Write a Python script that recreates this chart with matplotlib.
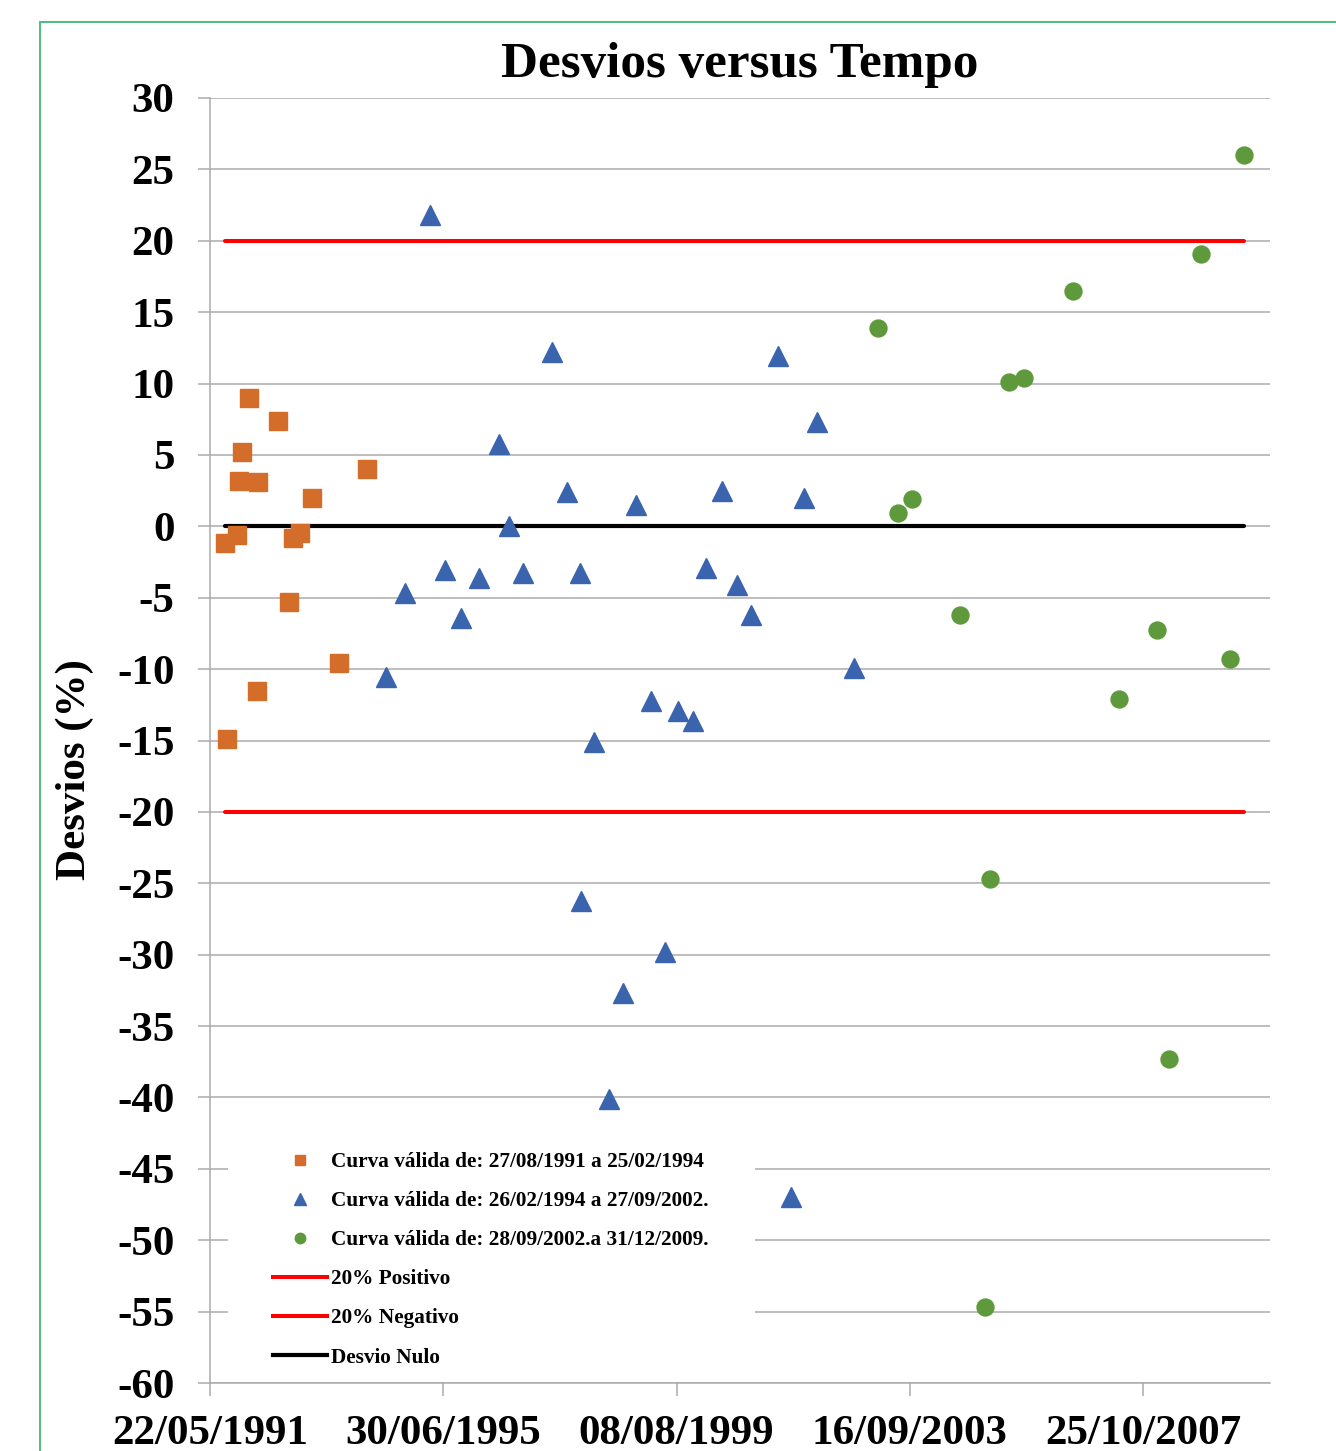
import matplotlib
matplotlib.use('Agg')
import matplotlib.pyplot as plt
import pandas as pd
from matplotlib.patches import Rectangle
from matplotlib.lines import Line2D

plt.rcParams['font.family'] = ['Liberation Serif', 'DejaVu Serif']
plt.rcParams['font.weight'] = 'bold'
plt.rcParams['axes.unicode_minus'] = False

# ---------------- data ----------------
orange_dates = ['1991-08-27', '1991-09-10', '1991-11-14', '1991-11-26', '1991-12-12',
                '1992-01-30', '1992-03-17', '1992-03-28', '1992-08-03', '1992-10-13',
                '1992-11-06', '1992-12-21', '1993-03-10', '1993-08-31', '1994-02-25']
orange_values = [-1.2, -14.9, -0.6, 3.2, 5.2, 9.0, -11.5, 3.1, 7.4, -5.3,
                 -0.8, -0.5, 2.0, -9.6, 4.0]

blue_dates = ['1994-06-27', '1994-10-27', '1995-04-04', '1995-07-11', '1995-10-20',
              '1996-02-13', '1996-06-23', '1996-08-28', '1996-11-24', '1997-05-29',
              '1997-09-01', '1997-11-24', '1997-11-30', '1998-02-24', '1998-06-02',
              '1998-08-31', '1998-11-23', '1999-02-23', '1999-05-24', '1999-08-18',
              '1999-11-22', '2000-02-16', '2000-05-25', '2000-08-29', '2000-11-27',
              '2001-05-24', '2001-08-11', '2001-11-07', '2002-01-26', '2002-09-24']
blue_values = [-10.55, -4.7, 21.8, -3.05, -6.4, -3.6, 5.8, 0.0, -3.25, 12.2,
               2.4, -3.25, -26.25, -15.1, -40.1, -32.7, 1.5, -12.2, -29.8, -12.9,
               -13.6, -2.9, 2.5, -4.1, -6.2, 11.9, -47.0, 1.96, 7.3, -9.9]

green_dates = ['2003-02-26', '2003-07-01', '2003-10-02', '2004-08-02', '2005-01-12',
               '2005-02-13', '2005-06-15', '2005-09-20', '2006-08-01', '2007-05-22',
               '2008-01-21', '2008-04-06', '2008-11-02', '2009-05-05', '2009-08-02']
green_values = [13.9, 0.93, 1.94, -6.24, -54.7, -24.7, 10.14, 10.4, 16.45, -12.06,
                -7.27, -37.3, 19.05, -9.28, 26.0]

limit_pos = 20
limit_neg = -20
limit_zero = 0

y_ticks = list(range(-60, 35, 5))
x_tick_labels = ['22/05/1991', '30/06/1995', '08/08/1999', '16/09/2003', '25/10/2007']
x_max_date = '2010-01-18'

title = 'Desvios versus Tempo'
y_label = 'Desvios (%)'
legend_labels = ['Curva válida de: 27/08/1991 a 25/02/1994',
                 'Curva válida de: 26/02/1994 a 27/09/2002.',
                 'Curva válida de: 28/09/2002.a 31/12/2009.',
                 '20% Positivo', '20% Negativo', 'Desvio Nulo']

# ---------------- styles ----------------
c_orange = '#D46D2A'
c_blue = '#3B64AE'
c_green = '#5E9A3B'
c_grid = '#ABABAB'
c_frame = '#4DBE7E'

W, H = 1336, 1451
fig = plt.figure(figsize=(W / 100, H / 100), dpi=100)
ax = fig.add_axes([210 / W, 1 - 1383 / H, 1060 / W, 1285 / H])

od = pd.to_datetime(orange_dates)
bd = pd.to_datetime(blue_dates)
gd = pd.to_datetime(green_dates)
line_x = [od[0], gd[-1]]

ax.plot(line_x, [limit_pos, limit_pos], color='#FF0000', lw=2.9, zorder=2,
        solid_capstyle='round')
ax.plot(line_x, [limit_neg, limit_neg], color='#FF0000', lw=2.9, zorder=2,
        solid_capstyle='round')
ax.plot(line_x, [limit_zero, limit_zero], color='black', lw=3.0, zorder=2,
        solid_capstyle='round')

ax.plot(od, orange_values, ls='none', marker='s', ms=13.5, color=c_orange,
        mec=c_orange, zorder=4)
ax.plot(bd, blue_values, ls='none', marker='^', ms=14, color=c_blue,
        mec=c_blue, zorder=4)
ax.plot(gd, green_values, ls='none', marker='o', ms=12.2, color=c_green,
        mec=c_green, zorder=4)

# axes
xt = pd.to_datetime(x_tick_labels, format='%d/%m/%Y')
ax.set_xlim(xt[0], pd.Timestamp(x_max_date))
ax.set_xticks(xt)
ax.set_xticklabels(x_tick_labels)
ax.set_ylim(-60, 30)
ax.set_yticks(y_ticks)
ax.set_yticklabels([str(v) for v in y_ticks])

ax.grid(axis='y', color=c_grid, lw=1.1)
ax.set_axisbelow(True)
for s in ['top', 'right']:
    ax.spines[s].set_visible(False)
for s in ['left', 'bottom']:
    ax.spines[s].set_color(c_grid)
    ax.spines[s].set_linewidth(1.1)
ax.tick_params(axis='y', length=8.6, width=1.1, color=c_grid, pad=17, labelsize=31)
ax.tick_params(axis='x', length=9, width=1.1, color=c_grid, pad=14, labelsize=31)
for lab in ax.get_xticklabels() + ax.get_yticklabels():
    lab.set_fontweight('bold')

# legend background box
ax.add_patch(Rectangle((228 / W, 1 - 1376 / H), (755 - 228) / W, (1376 - 1143) / H,
                       transform=fig.transFigure, facecolor='white',
                       edgecolor='none', zorder=1.5))

handles = [
    Line2D([], [], ls='none', marker='s', ms=7.5, color=c_orange),
    Line2D([], [], ls='none', marker='^', ms=8, color=c_blue),
    Line2D([], [], ls='none', marker='o', ms=7.5, color=c_green),
    Line2D([], [], color='#FF0000', lw=2.9),
    Line2D([], [], color='#FF0000', lw=2.9),
    Line2D([], [], color='black', lw=3.0),
]
leg = ax.legend(handles, legend_labels, loc='upper left',
                bbox_to_anchor=(273 / W, 1 - 1152 / H), bbox_transform=fig.transFigure,
                frameon=False, borderpad=0, borderaxespad=0, handlelength=2.55,
                handletextpad=0.2, labelspacing=0.9,
                prop={'family': 'Liberation Serif', 'size': 15.3, 'weight': 'bold'})
leg.set_zorder(5)

# title and y label
fig.text(740 / W, 1 - 77 / H, title, ha='center', va='baseline', fontsize=36.8,
         fontweight='bold')
fig.text(75 / W, 1 - 770 / H, y_label, ha='center', va='center', rotation=90,
         fontsize=31, fontweight='bold')

# chart-area border (green)
fig.add_artist(Line2D([40 / W, 40 / W], [0, 1 - 22 / H], transform=fig.transFigure,
                      color=c_frame, lw=1.4))
fig.add_artist(Line2D([40 / W, 1], [1 - 22 / H, 1 - 22 / H], transform=fig.transFigure,
                      color=c_frame, lw=1.4))

fig.savefig('out.png', dpi=100, facecolor='white')
